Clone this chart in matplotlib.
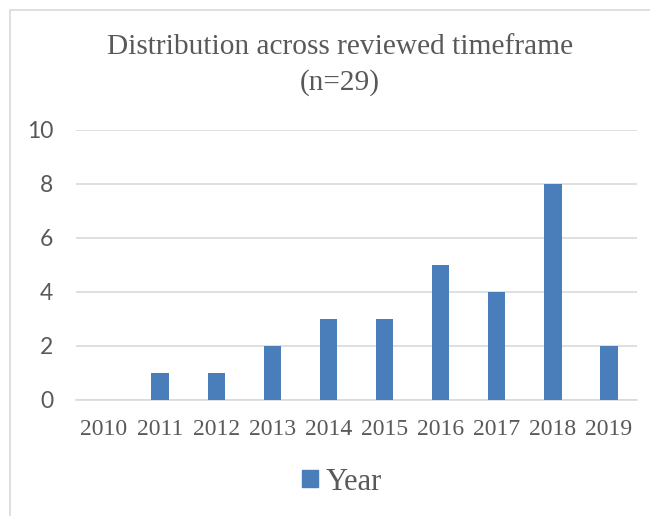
import matplotlib
matplotlib.use("Agg")
import matplotlib.pyplot as plt
from matplotlib.patches import Rectangle, Patch

years = ["2010", "2011", "2012", "2013", "2014", "2015", "2016", "2017", "2018", "2019"]
counts = [0, 1, 1, 2, 3, 3, 5, 4, 8, 2]
yticks = [0, 2, 4, 6, 8, 10]
title = "Distribution across reviewed timeframe\n(n=29)"
series_name = "Year"

W, H = 650, 516
fig = plt.figure(figsize=(W / 100, H / 100), dpi=100)
fig.patch.set_facecolor("white")

# outer chart border (Excel-like)
fig.patches.append(Rectangle((10 / W, -0.1), 1.2, 1 - 10 / H + 0.1, transform=fig.transFigure,
                             fill=False, edgecolor="#d9d9d9", linewidth=1.2))

left, right, bottom, top = 76 / W, 637 / W, 1 - 400 / H, 1 - 130 / H
ax = fig.add_axes([left, bottom, right - left, top - bottom])
x = range(len(years))
bar_color = "#4a7ebb"
ax.bar(x, counts, width=0.31, color=bar_color, zorder=3)
ax.set_xlim(-0.5, len(years) - 0.5)
ax.set_ylim(0, 10)
ax.set_yticks(yticks)
ax.set_yticklabels([str(v) for v in yticks], family="Lato", fontsize=16.5, color="#595959")
ax.set_xticks(list(x))
ax.set_xticklabels(years, family="Liberation Serif", fontsize=17, color="#595959")
ax.tick_params(length=0)
ax.tick_params(axis="y", pad=16.5)
ax.tick_params(axis="x", pad=14)
ax.grid(axis="y", color="#d9d9d9", linewidth=1.2, zorder=0)
for s in ["top", "right", "left"]:
    ax.spines[s].set_visible(False)
ax.spines["bottom"].set_color("#d9d9d9")
ax.spines["bottom"].set_linewidth(1.2)

fig.text(340 / W, 1 - 65 / H, title, ha="center", va="center", family="Liberation Serif",
         fontsize=21.2, color="#595959", linespacing=1.4)

leg = fig.legend(handles=[Patch(color=bar_color, label=series_name)], loc="center",
                 bbox_to_anchor=(342 / W, 1 - 482 / H), frameon=False,
                 prop={"family": "Liberation Serif", "size": 22}, handlelength=0.5, handleheight=0.5,
                 handletextpad=0.25, borderpad=0, borderaxespad=0)
for t in leg.get_texts():
    t.set_color("#595959")

fig.savefig("out.png", dpi=100)
